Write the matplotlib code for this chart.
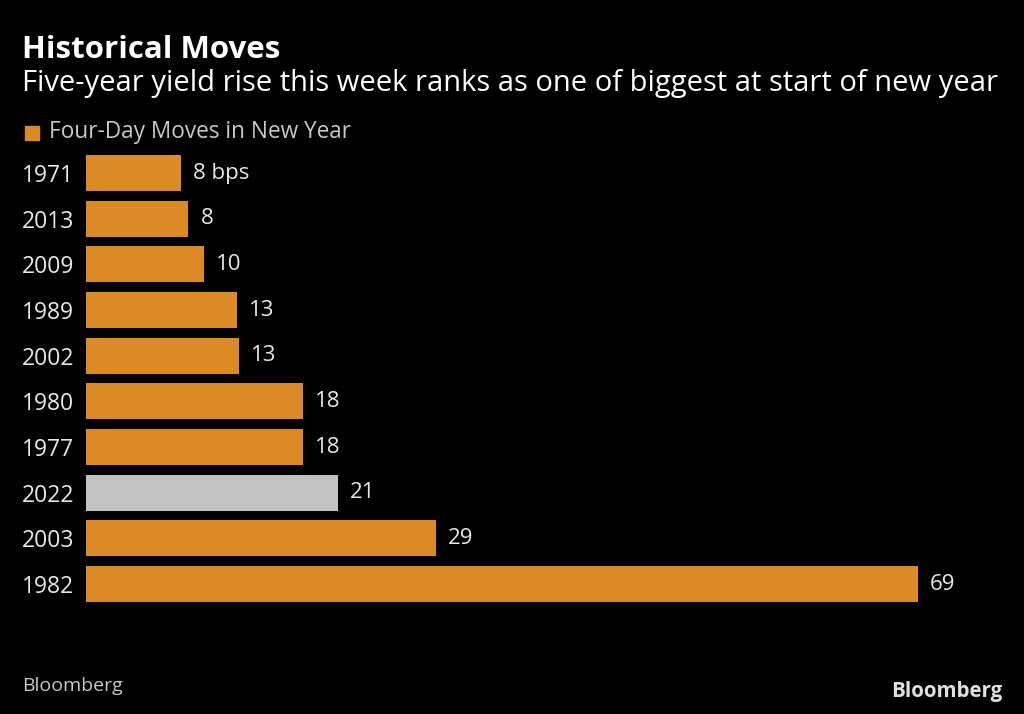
import matplotlib.pyplot as plt

# -------------------------------
# Data
# -------------------------------
years = ["1971", "2013", "2009", "1989", "2002", "1980", "1977", "2022", "2003", "1982"]
moves_bps = [7.9, 8.5, 9.8, 12.5, 12.7, 18.0, 18.0, 20.9, 29.0, 69.0]
value_labels = ["8 bps", "8", "10", "13", "13", "18", "18", "21", "29", "69"]
highlight = "2022"

orange = "#DB8A26"
grey_bar = "#C2C2C2"
text_col = "#E8E8E8"
sub_col = "#C8C8C8"

plt.rcParams["font.family"] = ["Open Sans", "DejaVu Sans"]

fig = plt.figure(figsize=(10.24, 7.14), dpi=100, facecolor="black")
ax = fig.add_axes([86 / 1024, 0.150, 914 / 1024, 0.6396])
ax.set_facecolor("black")

colors = [grey_bar if y == highlight else orange for y in years]
pos = list(range(len(years)))
ax.barh(pos, moves_bps, height=0.79, color=colors, edgecolor="none")

ax.set_xlim(0, 69 * 914 / 832)
ax.set_ylim(len(years) - 0.5, -0.5)
ax.set_yticks(pos)
ax.set_yticklabels(years, color=text_col, fontsize=16.5)
ax.tick_params(axis="y", length=0, pad=8.5)
ax.set_xticks([])
for s in ax.spines.values():
    s.set_visible(False)

for p, v, lab in zip(pos, moves_bps, value_labels):
    ax.text(v + 1.0, p, lab, va="center", ha="left", color=text_col, fontsize=16)

# -------------------------------
# Titles, legend, footer
# -------------------------------
fig.text(22 / 1024, 1 - 50 / 714, "Historical Moves", color="white", fontsize=22.5,
         fontweight="bold", va="center")
fig.text(22 / 1024, 1 - 84 / 714, "Five-year yield rise this week ranks as one of biggest at start of new year",
         color="white", fontsize=21, va="center")

fig.patches.append(plt.Rectangle((25 / 1024, 1 - 140 / 714), 14 / 1024, 14 / 714,
                                 transform=fig.transFigure, color=orange, figure=fig))
fig.text(49 / 1024, 1 - 132 / 714, "Four-Day Moves in New Year", color=sub_col,
         fontsize=16.3, va="center")

fig.text(22 / 1024, 1 - 686 / 714, "Bloomberg", color=sub_col, fontsize=14, va="center")
fig.text(1002 / 1024, 1 - 692 / 714, "Bloomberg", color="#E0E0E0", fontsize=14.8,
         fontweight="bold", ha="right", va="center")

fig.savefig("out.png", dpi=100, facecolor="black")
